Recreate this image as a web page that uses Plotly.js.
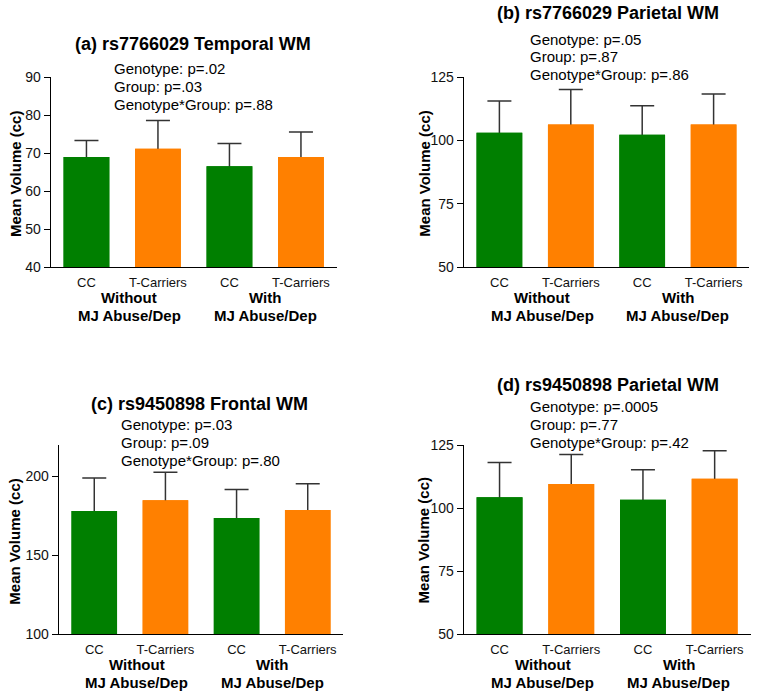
<!DOCTYPE html>
<html>
<head>
<meta charset="utf-8">
<script src="https://cdn.plot.ly/plotly-3.0.1.min.js"></script>
<style>html,body{margin:0;padding:0;background:#fff;}#chart{width:762px;height:700px;}</style>
</head>
<body>
<div id="chart"></div>
<script>
// ---- data ----
const tickLabels = ['CC', 'T-Carriers', 'CC', 'T-Carriers'];
const groupLine1 = ['Without', 'With'];
const groupLine2 = ['MJ Abuse/Dep', 'MJ Abuse/Dep'];

const titles = [
  '(a) rs7766029 Temporal WM',
  '(b) rs7766029 Parietal WM',
  '(c) rs9450898 Frontal WM',
  '(d) rs9450898 Parietal WM'
];

const pvalsA = ['Genotype: p=.02', 'Group: p=.03', 'Genotype*Group: p=.88'];
const pvalsB = ['Genotype: p=.05', 'Group: p=.87', 'Genotype*Group: p=.86'];
const pvalsC = ['Genotype: p=.03', 'Group: p=.09', 'Genotype*Group: p=.80'];
const pvalsD = ['Genotype: p=.0005', 'Group: p=.77', 'Genotype*Group: p=.42'];

const meansA = [69.0, 71.2, 66.6, 69.0];
const errA   = [4.4, 7.4, 6.0, 6.6];
const meansB = [103.0, 106.3, 102.2, 106.3];
const errB   = [12.5, 13.8, 11.5, 12.0];
const meansC = [178.0, 184.8, 173.6, 178.7];
const errC   = [20.9, 17.7, 18.1, 16.6];
const meansD = [104.3, 109.5, 103.3, 111.6];
const errD   = [13.8, 11.7, 11.9, 11.1];

const yTicksA = [40, 50, 60, 70, 80, 90];
const yTicksB = [50, 75, 100, 125];
const yTicksC = [100, 150, 200];
const yTicksD = [50, 75, 100, 125];

const yTitle = 'Mean Volume (cc)';

// ---- styles / layout ----
const GREEN = '#007f00', ORANGE = '#ff8000';
const barColors = [GREEN, ORANGE, GREEN, ORANGE];
const FONT = 'Liberation Sans, Arial, sans-serif';
const W = 762, H = 700;
const px = v => v / W;
const py = v => 1 - v / H;

const panels = [
  {means: meansA, err: errA, ticks: yTicksA, range: [40, 90], pv: pvalsA,
   xd: [50.7, 336.7], yd: [77.3, 267.3], title: [192.5, 43.5], pvx: 111.7, pvy: [68.3, 86, 104], yt: [15, 174]},
  {means: meansB, err: errB, ticks: yTicksB, range: [50, 125], pv: pvalsB,
   xd: [463.7, 749.3], yd: [77.0, 267.3], title: [607.5, 13.5], pvx: 527.7, pvy: [39.3, 56.7, 75], yt: [423.7, 174]},
  {means: meansC, err: errC, ticks: yTicksC, range: [100, 220], pv: pvalsC,
   xd: [58.7, 343.3], yd: [444.7, 634.3], title: [199.5, 403.5], pvx: 119.3, pvy: [424.3, 442.7, 460.7], yt: [15, 541.7]},
  {means: meansD, err: errD, ticks: yTicksD, range: [50, 125], pv: pvalsD,
   xd: [463.7, 750.5], yd: [445.0, 634.3], title: [607.5, 385], pvx: 527.7, pvy: [406, 424, 442.7], yt: [423.7, 540.7]}
];

const xIdx = tickLabels.map((_, i) => i);
const groupX = [0.6, 2.5];

const traces = [];
const layout = {
  width: W, height: H,
  margin: {l: 0, r: 0, t: 0, b: 0},
  paper_bgcolor: '#fff', plot_bgcolor: '#fff',
  showlegend: false, barmode: 'overlay',
  font: {family: FONT, color: '#000'},
  annotations: []
};

panels.forEach((p, k) => {
  const n = k + 1;
  const xa = 'x' + (n === 1 ? '' : n), ya = 'y' + (n === 1 ? '' : n);
  const xk = 'xaxis' + (n === 1 ? '' : n), yk = 'yaxis' + (n === 1 ? '' : n);
  // bars with symmetric error bars (lower half is hidden by the overlay below)
  traces.push({
    type: 'bar', x: xIdx, y: p.means, xaxis: xa, yaxis: ya,
    width: 0.64, opacity: 1,
    marker: {color: barColors, line: {width: 0}},
    error_y: {type: 'data', array: p.err, color: '#333', thickness: 1.5, width: 12},
    hoverinfo: 'skip'
  });
  // same bars drawn again on top to hide the lower half of each error bar
  traces.push({
    type: 'bar', x: xIdx, y: p.means, xaxis: xa, yaxis: ya,
    width: 0.64, opacity: 1,
    marker: {color: barColors, line: {width: 0}},
    hoverinfo: 'skip'
  });
  layout[xk] = {
    domain: [px(p.xd[0]), px(p.xd[1])], anchor: ya,
    range: [-0.5, 3.5], fixedrange: true,
    tickvals: xIdx, ticktext: tickLabels,
    ticks: 'outside', ticklen: 3, tickcolor: 'rgba(0,0,0,0)',
    tickfont: {family: FONT, size: 13, color: '#111'},
    showline: true, linecolor: '#000', linewidth: 1, showgrid: false, zeroline: false
  };
  layout[yk] = {
    domain: [py(p.yd[1]), py(p.yd[0])], anchor: xa,
    range: p.range, fixedrange: true,
    tickvals: p.ticks, ticks: 'outside', ticklen: 6, tickcolor: '#000', tickwidth: 1,
    tickfont: {family: FONT, size: 14, color: '#111'},
    showline: true, linecolor: '#000', linewidth: 1, showgrid: false, zeroline: false
  };
  layout.annotations.push({
    text: '<b>' + titles[k] + '</b>', xref: 'paper', yref: 'paper',
    x: px(p.title[0]), y: py(p.title[1]), xanchor: 'center', yanchor: 'middle',
    showarrow: false, font: {family: FONT, size: 18, color: '#000'}
  });
  p.pv.forEach((t, j) => {
    layout.annotations.push({
      text: t, xref: 'paper', yref: 'paper',
      x: px(p.pvx), y: py(p.pvy[j]), xanchor: 'left', yanchor: 'middle',
      showarrow: false, font: {family: FONT, size: 15, color: '#000'}
    });
  });
  layout.annotations.push({
    text: '<b>' + yTitle + '</b>', xref: 'paper', yref: 'paper',
    x: px(p.yt[0]), y: py(p.yt[1]), xanchor: 'center', yanchor: 'middle',
    textangle: -90, showarrow: false, font: {family: FONT, size: 15, color: '#000'}
  });
  groupX.forEach((gx, g) => {
    layout.annotations.push({
      text: '<b>' + groupLine1[g] + '</b>', xref: xa, yref: ya + ' domain',
      x: gx, y: 0, yshift: -30.5, xanchor: 'center', yanchor: 'middle',
      showarrow: false, font: {family: FONT, size: 15, color: '#000'}
    });
    layout.annotations.push({
      text: '<b>' + groupLine2[g] + '</b>', xref: xa, yref: ya + ' domain',
      x: gx, y: 0, yshift: -48.5, xanchor: 'center', yanchor: 'middle',
      showarrow: false, font: {family: FONT, size: 15, color: '#000'}
    });
  });
});

Plotly.newPlot('chart', traces, layout, {displayModeBar: false, staticPlot: true});
</script>
</body>
</html>
